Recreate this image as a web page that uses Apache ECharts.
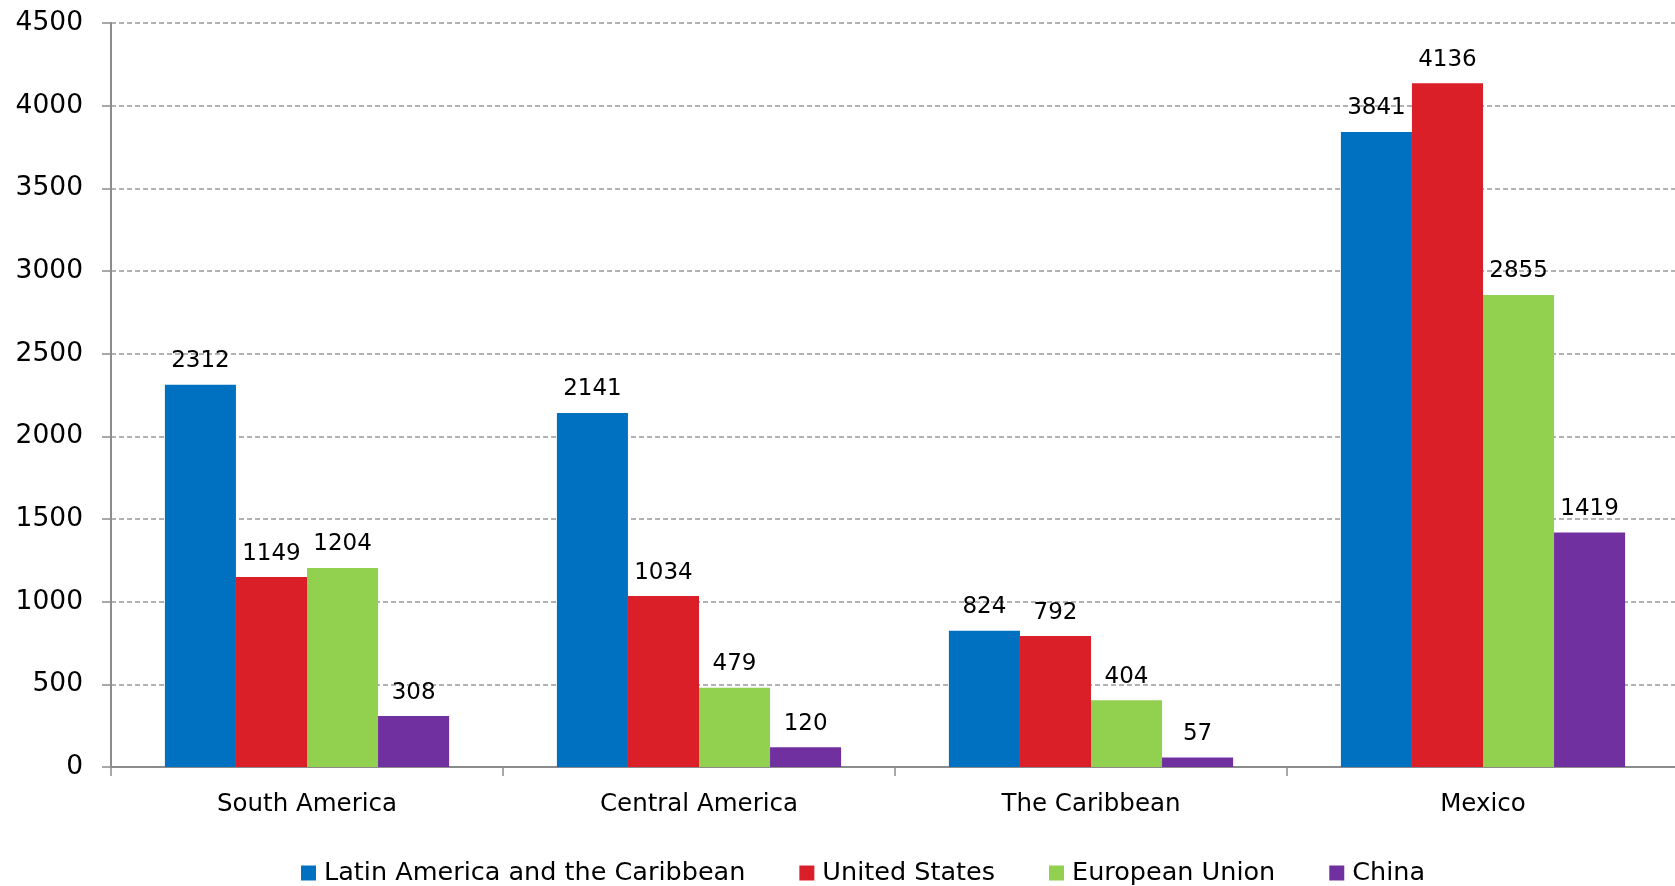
<!DOCTYPE html>
<html><head><meta charset="utf-8">
<script src="https://cdn.jsdelivr.net/npm/echarts@6/dist/echarts.min.js"></script>
<style>html,body{margin:0;padding:0;background:#fff;overflow:hidden}#c{width:1679px;height:886px}</style>
</head><body><div id="c"></div>
<script>
const categories = ["South America", "Central America", "The Caribbean", "Mexico"];
const seriesNames = ["Latin America and the Caribbean", "United States", "European Union", "China"];
const latamValues = [2312, 2141, 824, 3841];
const usValues = [1149, 1034, 792, 4136];
const euValues = [1204, 479, 404, 2855];
const chinaValues = [308, 120, 57, 1419];
const colors = ["#0070C0", "#DA1F28", "#92D050", "#7030A0"];
const allValues = [latamValues, usValues, euValues, chinaValues];
const FONT = "DejaVu Sans";

const chart = echarts.init(document.getElementById('c'), null, {renderer: 'canvas'});
chart.setOption({
  animation: false,
  textStyle: {fontFamily: FONT},
  grid: {left: 111, right: 0, top: 23, bottom: 119, containLabel: false},
  legend: {
    left: 301, top: 860, padding: 0,
    itemWidth: 15, itemHeight: 15, itemGap: 54,
    icon: 'rect',
    textStyle: {fontFamily: FONT, fontSize: 25.5, color: '#000', padding: [0, 0, 0, 3]},
    data: seriesNames
  },
  xAxis: {
    type: 'category', data: categories,
    axisLine: {lineStyle: {color: '#8c8c8c', width: 2}},
    axisTick: {show: true, length: 9, lineStyle: {color: '#8c8c8c', width: 1.5}},
    axisLabel: {fontFamily: FONT, fontSize: 24.5, color: '#000', margin: 25}
  },
  yAxis: {
    type: 'value', min: 0, max: 4500, interval: 500,
    axisLine: {show: true, lineStyle: {color: '#8c8c8c', width: 2}},
    axisTick: {show: true, length: 9, lineStyle: {color: '#8c8c8c', width: 1.5}},
    axisLabel: {fontFamily: FONT, fontSize: 26.5, color: '#000', margin: 28, formatter: v => String(v)},
    splitLine: {lineStyle: {color: '#999', type: [5, 3], width: 1.5}}
  },
  series: seriesNames.map((n, i) => ({
    name: n, type: 'bar', data: allValues[i],
    barGap: '0%', barCategoryGap: '27.5%',
    itemStyle: {color: colors[i]},
    label: {show: true, position: 'top', distance: 12, fontFamily: FONT, fontSize: 23, color: '#000'}
  }))
});
</script></body></html>
